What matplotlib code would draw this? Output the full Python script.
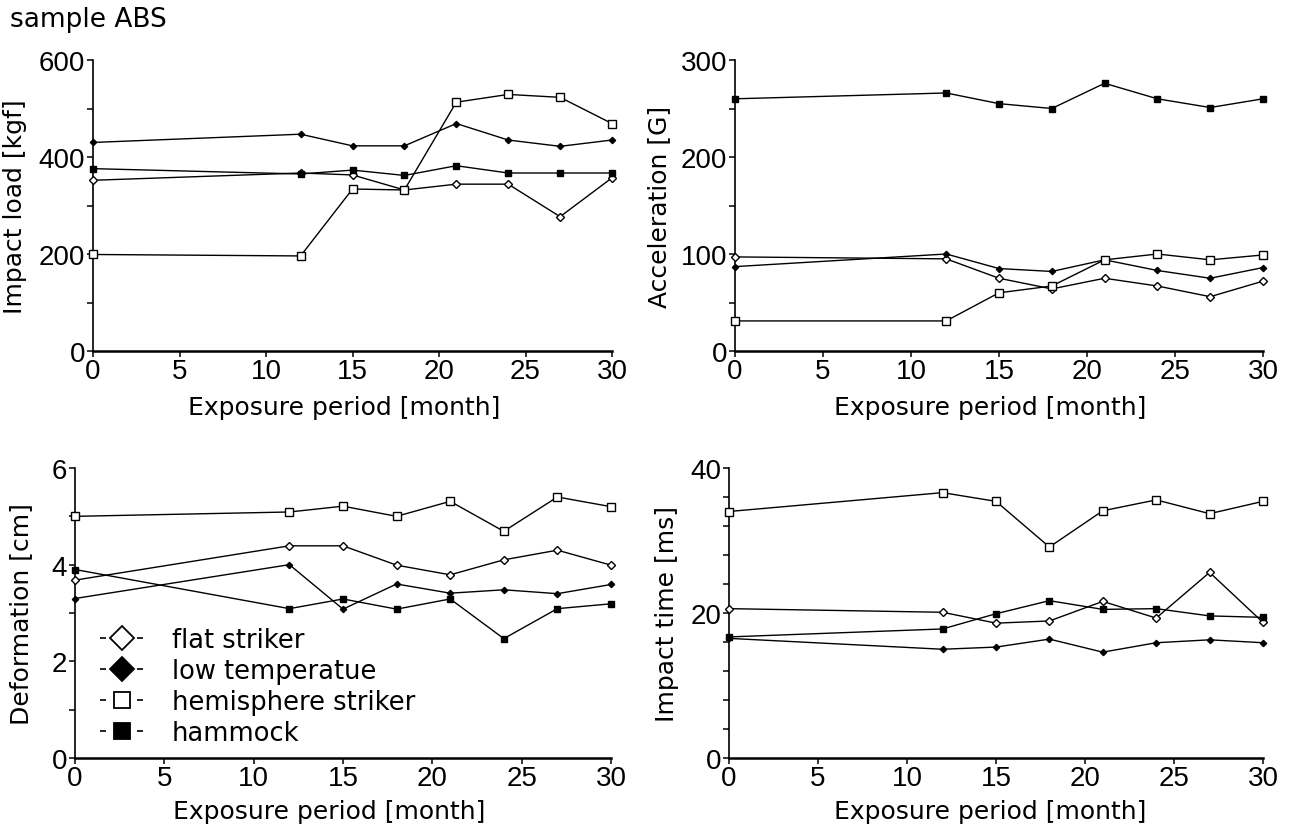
import matplotlib
matplotlib.use("Agg")
import matplotlib.pyplot as plt
from matplotlib.lines import Line2D
from matplotlib.ticker import MultipleLocator

# === DATA ===
months = [0, 12, 15, 18, 21, 24, 27, 30]

load_flat = [352, 367, 363, 332, 344, 344, 277, 357]
load_low = [430, 447, 423, 423, 469, 435, 422, 435]
load_hemi = [199, 196, 334, 332, 513, 529, 523, 469]
load_hamm = [376, 365, 373, 362, 382, 367, 367, 367]

acc_flat = [97, 95, 75, 64, 75, 67, 56, 72]
acc_low = [87, 100, 85, 82, 94, 83, 75, 86]
acc_hemi = [31, 31, 60, 67, 94, 100, 94, 99]
acc_hamm = [260, 266, 255, 250, 276, 260, 251, 260]

def_flat = [3.68, 4.39, 4.39, 3.99, 3.79, 4.10, 4.30, 3.99]
def_low = [3.30, 4.00, 3.08, 3.60, 3.41, 3.48, 3.40, 3.59]
def_hemi = [5.00, 5.09, 5.21, 5.00, 5.31, 4.69, 5.40, 5.20]
def_hamm = [3.90, 3.09, 3.29, 3.08, 3.29, 2.47, 3.09, 3.19]

time_flat = [20.6, 20.1, 18.6, 18.9, 21.6, 19.3, 25.6, 18.7]
time_low = [16.5, 15.0, 15.3, 16.4, 14.6, 15.9, 16.3, 15.9]
time_hemi = [34.0, 36.6, 35.4, 29.1, 34.1, 35.6, 33.7, 35.4]
time_hamm = [16.7, 17.8, 19.9, 21.7, 20.5, 20.6, 19.6, 19.4]

series_names = ["flat striker", "low temperatue", "hemisphere striker", "hammock"]

plt.rcParams["font.family"] = ["Liberation Sans", "DejaVu Sans"]
LABEL_FONT = "DejaVu Sans"
W, H = 1289, 828
fig = plt.figure(figsize=(W / 100, H / 100), dpi=100)

# marker styles: (marker, face, size)
styles = [("D", "white", 4.0), ("D", "black", 3.2), ("s", "white", 6.0), ("s", "black", 4.5)]


def panel(box, ys, ymax, ystep, yminor, ylabel, ylab_x, xlab_pos):
    l, r, t, b = box
    ax = fig.add_axes([l / W, 1 - b / H, (r - l) / W, (b - t) / H])
    for y, (m, fc, ms) in zip(ys, styles):
        ax.plot(months, y, color="black", lw=1.0, marker=m, mfc=fc, mec="black",
                mew=1.0, ms=ms, clip_on=False, zorder=3)
    ax.set_xlim(0, 30)
    ax.set_ylim(0, ymax)
    ax.xaxis.set_major_locator(MultipleLocator(5))
    ax.yaxis.set_major_locator(MultipleLocator(ystep))
    ax.yaxis.set_minor_locator(MultipleLocator(yminor))
    for s in ("top", "right"):
        ax.spines[s].set_visible(False)
    ax.spines["left"].set_linewidth(1.2)
    ax.spines["bottom"].set_linewidth(1.8)
    ax.tick_params(axis="both", direction="out", length=4, width=1.1, labelsize=20)
    ax.tick_params(axis="x", pad=1)
    ax.tick_params(axis="y", pad=1.5)
    ax.tick_params(axis="y", which="minor", direction="out", length=4, width=1.1)
    ax.set_xlabel("Exposure period [month]", fontsize=18, family=LABEL_FONT, va="top")
    ax.xaxis.set_label_coords(*xlab_pos)
    ax.set_ylabel(ylabel, fontsize=18, family=LABEL_FONT)
    ax.yaxis.set_label_coords(ylab_x, 0.5)
    return ax


panel((93, 612, 61, 352), [load_flat, load_low, load_hemi, load_hamm], 600, 200, 100,
      "Impact load [kgf]", -0.127, (0.484, -0.151))
panel((735, 1263, 61, 352), [acc_flat, acc_low, acc_hemi, acc_hamm], 300, 100, 50,
      "Acceleration [G]", -0.121, (0.484, -0.151))
ax3 = panel((75, 611, 469, 759), [def_flat, def_low, def_hemi, def_hamm], 6, 2, 1,
            "Deformation [cm]", -0.078, (0.474, -0.141))
panel((729, 1263, 469, 759), [time_flat, time_low, time_hemi, time_hamm], 40, 20, 4,
      "Impact time [ms]", -0.094, (0.489, -0.141))

# legend in the deformation panel: "-◇-  flat striker" style entries
handles = [Line2D([0], [0], color="black", lw=1.2, ls=(0, (3.6, 18.6)), marker=m,
                  mfc=fc, mec="black", mew=1.3, ms=12)
           for (m, fc, _) in styles]
ax3.legend(handles, series_names, loc="upper left",
           bbox_to_anchor=(100 / W, 1 - 628 / H), bbox_transform=fig.transFigure,
           frameon=False, prop={"family": LABEL_FONT, "size": 18.5},
           handlelength=1.7, handletextpad=1.1, labelspacing=0.2, borderpad=0,
           borderaxespad=0)

fig.text(10 / W, 1 - 20 / H, "sample ABS", fontsize=19, family=LABEL_FONT,
         va="center", ha="left")

fig.savefig("out.png", dpi=100)
